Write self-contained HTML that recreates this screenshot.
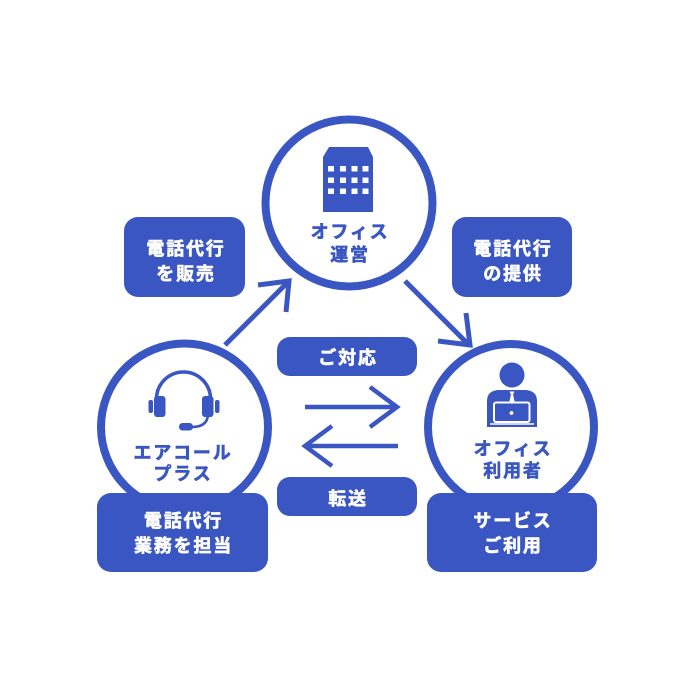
<!DOCTYPE html>
<html><head><meta charset="utf-8"><style>
html,body{margin:0;padding:0;background:#fff;}
svg{display:block;}
text{font-family:"Liberation Sans","Noto Sans CJK JP",sans-serif;font-weight:bold;font-size:18px;letter-spacing:1.8px;text-anchor:middle;stroke-width:0.6px;stroke-linejoin:round;}
</style></head><body>
<svg width="700" height="690" viewBox="0 0 700 690" xmlns="http://www.w3.org/2000/svg">
<rect width="700" height="690" fill="#fff"/>
<g stroke="#3a56c2" stroke-width="5" fill="none" stroke-linejoin="miter">
  <line x1="225" y1="345" x2="288" y2="282"/>
  <polyline points="258,285 289,281 286,312"/>
  <line x1="405" y1="281" x2="468" y2="344"/>
  <polyline points="466,313 470,345 438,341"/>
  <line x1="305" y1="407" x2="396" y2="407" stroke-width="4.5"/>
  <polyline points="370,387 397,407 370,427" stroke-width="4.5"/>
  <line x1="398" y1="446" x2="307" y2="446" stroke-width="4.5"/>
  <polyline points="332,426 305,446 332,466" stroke-width="4.5"/>
</g>
<g fill="#fff" stroke="#3a56c2" stroke-width="8">
  <circle cx="349" cy="203" r="83.5"/>
  <circle cx="184.5" cy="427" r="83.5"/>
  <circle cx="511" cy="427" r="83"/>
</g>
<g fill="#3a56c2">
  <polygon points="329,147 368,147 373,157 323,157"/>
  <rect x="323" y="157" width="50" height="55"/>
</g>
<g fill="#fff">
  <rect x="328" y="166" width="6" height="5.5"/><rect x="340" y="166" width="6" height="5.5"/><rect x="351.5" y="166" width="6" height="5.5"/><rect x="362.5" y="166" width="6" height="5.5"/>
  <rect x="328" y="177.5" width="6" height="5.5"/><rect x="340" y="177.5" width="6" height="5.5"/><rect x="351.5" y="177.5" width="6" height="5.5"/><rect x="362.5" y="177.5" width="6" height="5.5"/>
  <rect x="328" y="188.5" width="6" height="5.5"/><rect x="340" y="188.5" width="6" height="5.5"/><rect x="351.5" y="188.5" width="6" height="5.5"/><rect x="362.5" y="188.5" width="6" height="5.5"/>
</g>
<g fill="#3a56c2">
  <path d="M156.5 399 A27 27 0 0 1 210.5 399" fill="none" stroke="#3a56c2" stroke-width="3.6"/>
  <rect x="154" y="396" width="11.5" height="21" rx="3"/>
  <rect x="148.5" y="400" width="4.5" height="13" rx="2"/>
  <rect x="202" y="396" width="11.5" height="21" rx="3"/>
  <rect x="215" y="400" width="4.5" height="13" rx="2"/>
  <path d="M208 415 Q207 427 192 427" fill="none" stroke="#3a56c2" stroke-width="2.6"/>
  <rect x="179" y="423" width="14" height="7.5" rx="3.5"/>
</g>
<g>
  <circle cx="512" cy="375" r="12.5" fill="#3a56c2"/>
  <path d="M487 427 L487 401 Q487 391 498 390 L526 390 Q537 391 537 401 L537 427 Z" fill="#3a56c2"/>
  <polygon points="509.5,391.5 514.5,391.5 513,394.5 514.5,401 512,404 509.5,401 511,394.5" fill="#fff"/>
  <rect x="494" y="402.5" width="35.5" height="19.5" rx="2" fill="#3a56c2" stroke="#fff" stroke-width="2"/>
  <circle cx="511.5" cy="413" r="1.9" fill="#fff"/>
  <line x1="490" y1="424" x2="534" y2="424" stroke="#fff" stroke-width="1.6"/>
</g>
<g fill="#3a56c2" stroke="#3a56c2">
  <text x="350" y="238">オフィス</text>
  <text x="350" y="261">運営</text>
  <text x="183" y="459">エアコール</text>
  <text x="183" y="480">プラス</text>
  <text x="513" y="455">オフィス</text>
  <text x="513" y="477">利用者</text>
</g>
<g fill="#3a56c2">
  <rect x="124" y="217" width="121" height="80" rx="14"/>
  <rect x="452" y="217" width="120" height="80" rx="14"/>
  <rect x="97" y="493" width="171" height="79" rx="14"/>
  <rect x="427" y="493" width="170" height="79" rx="14"/>
  <rect x="277" y="337" width="140" height="39" rx="13"/>
  <rect x="277" y="477" width="140" height="39" rx="13"/>
</g>
<g fill="#fff" stroke="#fff">
  <text x="186" y="255">電話代行</text>
  <text x="186" y="280">を販売</text>
  <text x="513" y="255">電話代行</text>
  <text x="513" y="280">の提供</text>
  <text x="183.5" y="527">電話代行</text>
  <text x="183.5" y="552">業務を担当</text>
  <text x="513" y="527">サービス</text>
  <text x="513" y="552">ご利用</text>
  <text x="348" y="364">ご対応</text>
  <text x="348" y="505">転送</text>
</g>
</svg>
</body></html>
